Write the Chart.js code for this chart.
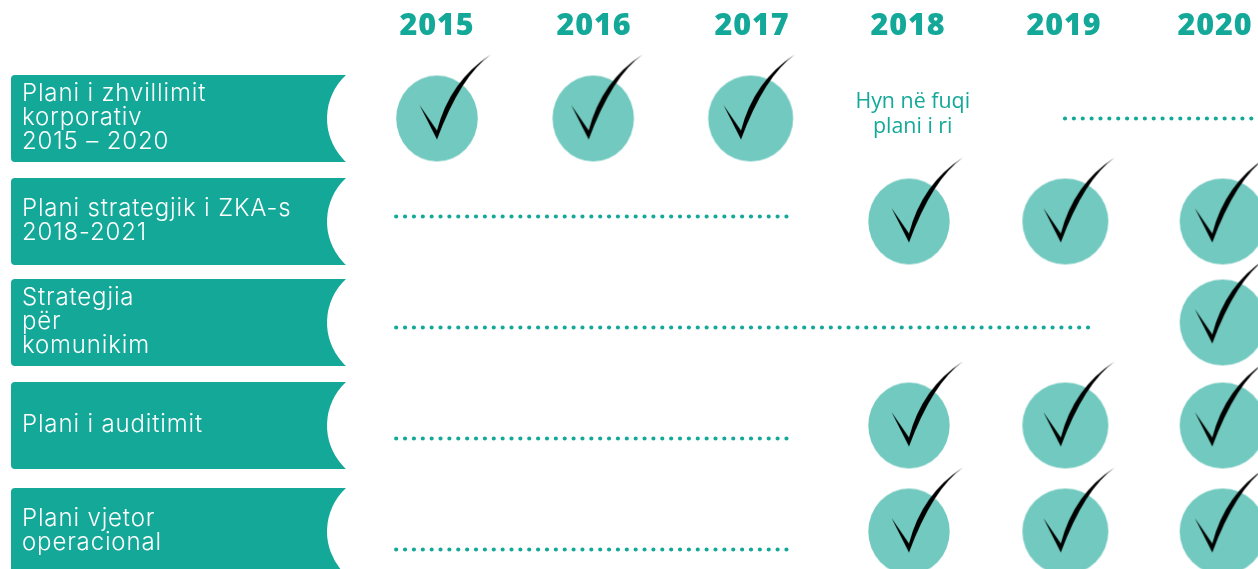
<!DOCTYPE html>
<html>
<head>
<meta charset="utf-8">
<script src="https://cdn.jsdelivr.net/npm/chart.js@4"></script>
<style>
  html, body { margin:0; padding:0; background:#fff; overflow:hidden; }
  canvas { display:block; }
</style>
</head>
<body>
<canvas id="planChart" width="1258" height="569"></canvas>
<script>
// data
const years = [2015, 2016, 2017, 2018, 2019, 2020];
const plans = [
  ['Plani i zhvillimit', 'korporativ', '2015 – 2020'],
  ['Plani strategjik i ZKA-s', '2018-2021'],
  ['Strategjia', 'për', 'komunikim'],
  ['Plani i auditimit'],
  ['Plani vjetor', 'operacional'],
];
const doneCorporate = [2015, 2016, 2017];
const doneStrategic = [2018, 2019, 2020];
const doneCommunication = [2020];
const doneAudit = [2018, 2019, 2020];
const doneOperational = [2018, 2019, 2020];
const pendingCorporate = [2019, 2020.3];
const pendingStrategic = [2014.74, 2017.24];
const pendingCommunication = [2014.74, 2019.15];
const pendingAudit = [2014.74, 2017.24];
const pendingOperational = [2014.74, 2017.24];
const newPlanYear = 2018;
const newPlanNote = ['Hyn në fuqi', 'plani i ri'];

// layout
const TEAL = '#14a899', PALE = '#71c9bf';
const rowY = [118.5, 221.5, 322.5, 425.5, 531.5];
const dotShift = [0, -5, 5, 13, 18];
const headerX = [2015, 2016, 2017.006, 2018, 2018.994, 2019.955];
const discX = { 2015: 2015, 2016: 2015.995, 2017: 2016.998, 2018: 2018.006, 2019: 2019.002, 2020: 2020.004 };
const checkX = { 2015: 2015, 2016: 2015.966, 2017: 2016.936, 2018: 2018.006, 2019: 2018.973, 2020: 2019.938 };
const markRx = [40.8, 40.7, 42.5, 40.7, 43, 43];

function makeDisc(rx) {
  const c = document.createElement('canvas');
  c.width = 100; c.height = 100;
  const g = c.getContext('2d');
  g.fillStyle = PALE;
  g.beginPath();
  g.ellipse(50, 50, rx, 43, 0, 0, Math.PI * 2);
  g.fill();
  return c;
}

function makeCheck() {
  const c = document.createElement('canvas');
  c.width = 120; c.height = 140;
  const g = c.getContext('2d');
  g.translate(60, 70);
  g.fillStyle = '#000';
  g.beginPath();
  g.moveTo(-17.5, -13.5);
  g.lineTo(0, 21);
  g.quadraticCurveTo(23.6, -42.5, 54, -64);
  g.quadraticCurveTo(13, -37.8, 0, 12);
  g.closePath();
  g.fill();
  return c;
}

const discs = {};
years.forEach((y, i) => { discs[y] = makeDisc(markRx[i]); });
const checkImg = makeCheck();

const doneByRow = [doneCorporate, doneStrategic, doneCommunication, doneAudit, doneOperational];
const pendingByRow = [pendingCorporate, pendingStrategic, pendingCommunication, pendingAudit, pendingOperational];
const donePoints = doneByRow.flatMap((row, i) => row.map(y => ({ year: y, y: rowY[i] })));

// first dataset is painted last, so the ticks go first
const datasets = [
  {
    data: donePoints.map(p => ({ x: checkX[p.year], y: p.y })),
    showLine: false, clip: false,
    pointRadius: 45,
    pointStyle: checkImg,
  },
  ...pendingByRow.map((row, i) => ({
    data: row.map(y => ({ x: y, y: rowY[i] + dotShift[i] })),
    showLine: true, pointRadius: 0,
    borderColor: TEAL, borderWidth: 4.2,
    borderDash: [0, 8.87], borderCapStyle: 'round',
  })),
  {
    data: donePoints.map(p => ({ x: discX[p.year], y: p.y })),
    showLine: false, clip: false,
    pointRadius: 45,
    pointStyle: donePoints.map(p => discs[p.year]),
  },
];

// label bands behind the row names, concave on the right
const bandsPlugin = {
  id: 'bands',
  beforeDraw(chart) {
    const { ctx, scales: { y } } = chart;
    const left = 11, right = 346, sag = 19, h = 87, r = 4;
    const rad = ((h / 2) ** 2 + sag ** 2) / (2 * sag);
    const ang = Math.asin((h / 2) / rad);
    ctx.save();
    ctx.fillStyle = TEAL;
    rowY.forEach(v => {
      const mid = y.getPixelForValue(v), top = mid - h / 2, bot = mid + h / 2;
      ctx.beginPath();
      ctx.moveTo(left + r, top);
      ctx.lineTo(right, top);
      ctx.arc(right - sag + rad, mid, rad, Math.PI + ang, Math.PI - ang, true);
      ctx.lineTo(left + r, bot);
      ctx.quadraticCurveTo(left, bot, left, bot - r);
      ctx.lineTo(left, top + r);
      ctx.quadraticCurveTo(left, top, left + r, top);
      ctx.fill();
    });
    ctx.restore();
    ctx.letterSpacing = '0.85px';
  },
  afterDraw(chart) {
    const { ctx, scales: { x, y } } = chart;
    ctx.save();
    ctx.letterSpacing = '0px';
    ctx.fillStyle = TEAL;
    ctx.font = '21.4px "Open Sans"';
    ctx.textAlign = 'center';
    ctx.textBaseline = 'alphabetic';
    newPlanNote.forEach((line, i) => {
      ctx.fillText(line, x.getPixelForValue(newPlanYear + 0.03), y.getPixelForValue(rowY[0] - 10.5 + i * 24.5));
    });
    ctx.restore();
  },
};

const noPadding = s => { s.paddingLeft = s.paddingRight = s.paddingTop = s.paddingBottom = 0; };

new Chart(document.getElementById('planChart'), {
  type: 'scatter',
  data: { datasets },
  plugins: [bandsPlugin],
  options: {
    responsive: false, animation: false, events: [],
    layout: { padding: 0, autoPadding: false },
    plugins: { legend: { display: false }, tooltip: { enabled: false } },
    scales: {
      x: {
        type: 'linear', position: 'top',
        min: 2015 - 437 / 157, max: 2015 + (1258 - 437) / 157,
        grid: { display: false, drawTicks: false }, border: { display: false },
        afterFit: s => { s.height = 50; noPadding(s); },
        afterBuildTicks: s => { s.ticks = headerX.map(value => ({ value })); },
        ticks: {
          autoSkip: false, maxRotation: 0, padding: 5, color: TEAL,
          font: { family: '"Open Sans"', size: 30.5, weight: 800 },
          callback: (v, i) => years[i],
        },
      },
      y: {
        type: 'linear', position: 'left', reverse: true,
        min: 50, max: 569,
        grid: { display: false, drawTicks: false }, border: { display: false },
        afterFit: s => { s.width = 0; noPadding(s); },
        afterBuildTicks: s => { s.ticks = rowY.map(v => ({ value: v - 1 })); },
        ticks: {
          autoSkip: false, mirror: true, padding: 22, color: '#fff',
          font: { family: 'Inter', size: 24, weight: 300, lineHeight: 1 },
          callback: (v, i) => plans[i],
        },
      },
    },
  },
});
</script>
</body>
</html>
